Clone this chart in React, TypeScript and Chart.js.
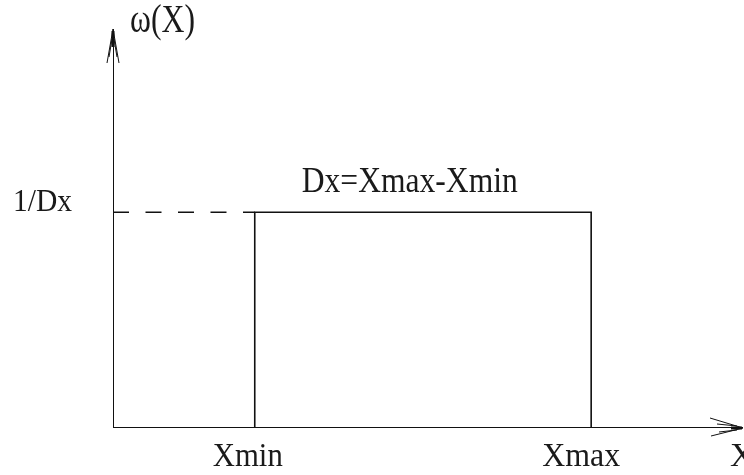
import { useEffect, useRef } from 'react';
import { Chart, registerables } from 'chart.js';

Chart.register(...registerables);

// Uniform density on [Xmin, Xmax]
const supportBounds = [2.25, 7.59]; // Xmin, Xmax
const densityLevel = [1]; // height 1/Dx
const axisExtent = [10, 1.85]; // end of x axis, end of y axis
const boundLabels = ['Xmin', 'Xmax'];
const axisTitles = ['X', 'ω(X)'];
const densityLabels = ['1/Dx'];
const widthLabels = ['Dx=Xmax-Xmin'];

const INK = '#111';
const FONT = '"Liberation Serif", "Times New Roman", serif';

// draws text squeezed horizontally to a given width
function drawFitted(
  ctx: CanvasRenderingContext2D,
  text: string,
  left: number,
  baseline: number,
  size: number,
  width: number | null
) {
  ctx.save();
  ctx.font = `${size}px ${FONT}`;
  ctx.fillStyle = '#1a1a1a';
  ctx.textAlign = 'left';
  ctx.textBaseline = 'alphabetic';
  const w = ctx.measureText(text).width;
  const sx = width ? width / w : 1;
  ctx.translate(left, baseline);
  ctx.scale(sx, 1);
  ctx.fillText(text, 0, 0);
  ctx.restore();
}

const annotations = {
  id: 'annotations',
  afterDatasetsDraw(chart: Chart) {
    const ctx = chart.ctx;
    const xs = chart.scales.x;
    const ys = chart.scales.y;
    const x0 = xs.getPixelForValue(0);
    const y0 = ys.getPixelForValue(0);
    const xEnd = xs.getPixelForValue(axisExtent[0]);
    const yEnd = ys.getPixelForValue(axisExtent[1]);

    ctx.save();
    ctx.strokeStyle = INK;
    ctx.lineCap = 'butt';
    // arrow on the vertical axis
    ctx.lineWidth = 1;
    ctx.beginPath();
    ctx.moveTo(x0, yEnd);
    ctx.lineTo(x0 - 6, yEnd + 34);
    ctx.moveTo(x0, yEnd);
    ctx.lineTo(x0 + 6, yEnd + 34);
    ctx.moveTo(x0 - 1, yEnd + 10);
    ctx.lineTo(x0 - 4, yEnd + 28);
    ctx.moveTo(x0 + 1, yEnd + 10);
    ctx.lineTo(x0 + 4, yEnd + 28);
    ctx.stroke();
    ctx.lineWidth = 3;
    ctx.beginPath();
    ctx.moveTo(x0, yEnd + 2);
    ctx.lineTo(x0, yEnd + 18);
    ctx.stroke();
    // arrow on the horizontal axis
    ctx.lineWidth = 1;
    ctx.beginPath();
    ctx.moveTo(xEnd, y0);
    ctx.lineTo(xEnd - 33, y0 - 10);
    ctx.moveTo(xEnd, y0);
    ctx.lineTo(xEnd - 32, y0 + 8);
    ctx.moveTo(xEnd - 6, y0 - 2);
    ctx.lineTo(xEnd - 26, y0 - 4);
    ctx.moveTo(xEnd - 6, y0 + 2);
    ctx.lineTo(xEnd - 24, y0 + 4);
    ctx.stroke();
    ctx.lineWidth = 3;
    ctx.beginPath();
    ctx.moveTo(xEnd - 12, y0);
    ctx.lineTo(xEnd - 1, y0);
    ctx.stroke();
    ctx.restore();

    const yLevel = ys.getPixelForValue(densityLevel[0]);
    const xa = xs.getPixelForValue(supportBounds[0]);
    const xb = xs.getPixelForValue(supportBounds[1]);

    drawFitted(ctx, axisTitles[1], x0 + 17, yEnd + 3, 40, 65);
    drawFitted(ctx, axisTitles[0], xEnd - 13, y0 + 38, 34, null);
    drawFitted(ctx, densityLabels[0], x0 - 100, yLevel - 1, 32, 59);
    drawFitted(ctx, widthLabels[0], xa + 47, yLevel - 20, 35, 216);
    drawFitted(ctx, boundLabels[0], xa - 42, y0 + 38, 34, 70);
    drawFitted(ctx, boundLabels[1], xb - 49, y0 + 38, 34, 78);
  },
};

export default function App() {
  const canvasRef = useRef<HTMLCanvasElement | null>(null);

  useEffect(() => {
    const canvas = canvasRef.current;
    if (!canvas) return;
    const [xMin, xMax] = supportBounds;
    const h = densityLevel[0];
    const line = (data: { x: number; y: number }[], width: number, dash: number[] = []) => ({
      data,
      showLine: true,
      borderColor: INK,
      borderWidth: width,
      borderDash: dash,
      pointRadius: 0,
      fill: false,
      tension: 0,
    });
    const chart = new Chart(canvas, {
      type: 'scatter',
      data: {
        datasets: [
          line([{ x: 0, y: 0 }, { x: axisExtent[0], y: 0 }], 2),
          line([{ x: 0, y: 0 }, { x: 0, y: axisExtent[1] }], 2),
          line([{ x: 0, y: h }, { x: xMin, y: h }], 1.6, [16, 16.5]),
          line(
            [
              { x: xMin, y: 0 },
              { x: xMin, y: h },
              { x: xMax, y: h },
              { x: xMax, y: 0 },
            ],
            1.6
          ),
        ],
      },
      options: {
        animation: false,
        responsive: true,
        maintainAspectRatio: false,
        layout: { padding: { left: 113, right: 1, top: 29, bottom: 47 } },
        plugins: { legend: { display: false }, tooltip: { enabled: false } },
        scales: {
          x: { type: 'linear', min: 0, max: axisExtent[0], display: false },
          y: { type: 'linear', min: 0, max: axisExtent[1], display: false },
        },
      },
      plugins: [annotations],
    });
    return () => chart.destroy();
  }, []);

  return (
    <div style={{ position: 'absolute', left: 0, top: 0, width: 744, height: 475, background: '#fff' }}>
      <canvas ref={canvasRef} />
    </div>
  );
}
